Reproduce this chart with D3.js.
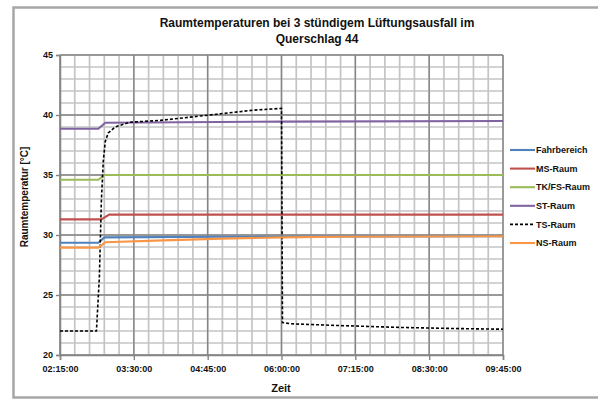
<!DOCTYPE html>
<html>
<head>
<meta charset="utf-8">
<script src="https://cdn.jsdelivr.net/npm/d3@7"></script>
<style>
  body { margin: 0; background: #fff; }
  svg text { font-family: "Liberation Sans", Arial, sans-serif; font-weight: bold; fill: #111; }
</style>
</head>
<body>
<svg id="chart" width="598" height="403"></svg>
<script>
// axis labels
const xTickLabels = ['02:15:00', '03:30:00', '04:45:00', '06:00:00', '07:15:00', '08:30:00', '09:45:00'];
const yTicks = [20, 25, 30, 35, 40, 45];

// series (time hh:mm, temperature °C)
const fahrTimes = ['02:15', '02:54', '03:00', '05:00', '09:45'];
const fahrTemps = [29.35, 29.35, 29.8, 29.85, 29.9];

const msTimes = ['02:15', '02:57', '03:05', '09:45'];
const msTemps = [31.3, 31.3, 31.7, 31.7];

const tkTimes = ['02:15', '02:54', '03:00', '09:45'];
const tkTemps = [34.6, 34.6, 35.0, 35.0];

const stTimes = ['02:15', '02:54', '03:01', '06:00', '09:45'];
const stTemps = [38.85, 38.85, 39.35, 39.45, 39.5];

const tsTimes = ['02:15', '02:52', '02:55', '02:57', '02:59', '03:01', '03:04', '03:11', '03:26', '03:57',
  '04:58', '05:31', '06:00', '06:01', '06:10', '07:00', '08:00', '09:00', '09:45'];
const tsTemps = [22.0, 22.0, 26.5, 32.8, 36.2, 37.8, 38.5, 39.0, 39.4, 39.55,
  40.1, 40.4, 40.55, 22.7, 22.6, 22.45, 22.3, 22.2, 22.15];

const nsTimes = ['02:15', '02:54', '03:01', '04:00', '05:00', '06:00', '07:00', '09:45'];
const nsTemps = [28.95, 28.95, 29.4, 29.55, 29.7, 29.8, 29.85, 29.9];

const seriesNames = ['Fahrbereich', 'MS-Raum', 'TK/FS-Raum', 'ST-Raum', 'TS-Raum', 'NS-Raum'];
const seriesColors = ['#4f81bd', '#c0504d', '#9bbb59', '#8064a2', '#000000', '#f79646'];

const parseT = d3.timeParse('%H:%M:%S');
const parseHM = d3.timeParse('%H:%M');

const series = [
  [fahrTimes, fahrTemps], [msTimes, msTemps], [tkTimes, tkTemps],
  [stTimes, stTemps], [tsTimes, tsTemps], [nsTimes, nsTemps]
].map(([t, v], i) => ({
  name: seriesNames[i],
  color: seriesColors[i],
  dashed: i === 4,
  values: t.map((s, j) => ({t: parseHM(s), v: v[j]}))
}));

const svg = d3.select('#chart');
const margin = {left: 60, right: 95, top: 55, bottom: 48};
const W = 598, H = 403;

// chart area border
svg.append('rect')
  .attr('x', 13.5).attr('y', 7.5)
  .attr('width', 620).attr('height', 390)
  .attr('fill', 'none')
  .attr('stroke', '#a6a6a6')
  .attr('stroke-width', 2.5);

const tickDates = xTickLabels.map(parseT);
const x = d3.scaleTime()
  .domain([tickDates[0], tickDates[tickDates.length - 1]])
  .range([margin.left, W - margin.right]);
const y = d3.scaleLinear()
  .domain([20, 45])
  .range([H - margin.bottom, margin.top]);

// minor gridlines
const minorX = d3.timeMinute.every(15).range(tickDates[0], d3.timeMinute.offset(tickDates[tickDates.length - 1], 1));
const minorY = d3.range(20, 46, 1);
const grid = svg.append('g');
grid.selectAll('line.mx').data(minorX).enter().append('line')
  .attr('x1', d => x(d)).attr('x2', d => x(d))
  .attr('y1', y(20)).attr('y2', y(45))
  .attr('stroke', '#c4c4c4').attr('stroke-width', 1.7);
grid.selectAll('line.my').data(minorY).enter().append('line')
  .attr('x1', x.range()[0]).attr('x2', x.range()[1])
  .attr('y1', d => y(d)).attr('y2', d => y(d))
  .attr('stroke', '#c4c4c4').attr('stroke-width', 1.7);
// major gridlines
grid.selectAll('line.Mx').data(tickDates).enter().append('line')
  .attr('x1', d => x(d)).attr('x2', d => x(d))
  .attr('y1', y(20)).attr('y2', y(45))
  .attr('stroke', '#858585').attr('stroke-width', 1.4);
grid.selectAll('line.My').data(yTicks).enter().append('line')
  .attr('x1', x.range()[0]).attr('x2', x.range()[1])
  .attr('y1', d => y(d)).attr('y2', d => y(d))
  .attr('stroke', '#858585').attr('stroke-width', 1.4);

// axes
const xAxis = svg.append('g')
  .attr('transform', `translate(0,${y(20)})`)
  .call(d3.axisBottom(x).tickValues(tickDates).tickSize(5).tickFormat(d3.timeFormat('%H:%M:%S')));
const yAxis = svg.append('g')
  .attr('transform', `translate(${x.range()[0]},0)`)
  .call(d3.axisLeft(y).tickValues(yTicks).tickSize(4));
[xAxis, yAxis].forEach(a => {
  a.select('.domain').attr('stroke', '#858585').attr('stroke-width', 1.5);
  a.selectAll('.tick line').attr('stroke', '#858585').attr('stroke-width', 1.4);
  a.selectAll('text').style('font-size', '9px').style('font-family', '"Liberation Sans", Arial, sans-serif').style('font-weight', 'bold').attr('fill', '#111');
});
xAxis.selectAll('text').attr('dy', '1.05em');

// lines
const line = d3.line().x(d => x(d.t)).y(d => y(d.v));
svg.append('g').selectAll('path').data(series).enter().append('path')
  .attr('d', d => line(d.values))
  .attr('fill', 'none')
  .attr('stroke', d => d.color)
  .attr('stroke-width', d => d.dashed ? 1.6 : 2.1)
  .attr('stroke-dasharray', d => d.dashed ? '3,2' : null);

// title
svg.append('text').attr('x', 317).attr('y', 27).attr('text-anchor', 'middle')
  .style('font-size', '12px').text('Raumtemperaturen bei 3 stündigem Lüftungsausfall im');
svg.append('text').attr('x', 317).attr('y', 43).attr('text-anchor', 'middle')
  .style('font-size', '12px').text('Querschlag 44');

// axis titles
svg.append('text').attr('x', 281).attr('y', 392).attr('text-anchor', 'middle')
  .style('font-size', '11px').text('Zeit');
svg.append('text').attr('transform', 'translate(28,197) rotate(-90)').attr('text-anchor', 'middle')
  .style('font-size', '10px').text('Raumtemperatur [°C]');

// legend
const legend = svg.append('g').selectAll('g').data(series).enter().append('g')
  .attr('transform', (d, i) => `translate(510,${150 + i * 18.6})`);
legend.append('line')
  .attr('x1', 0).attr('x2', 25)
  .attr('stroke', d => d.color)
  .attr('stroke-width', d => d.dashed ? 1.6 : 2.1)
  .attr('stroke-dasharray', d => d.dashed ? '3,2' : null);
legend.append('text').attr('x', 26).attr('dy', '0.35em')
  .style('font-size', '9px').text(d => d.name);
</script>
</body>
</html>
